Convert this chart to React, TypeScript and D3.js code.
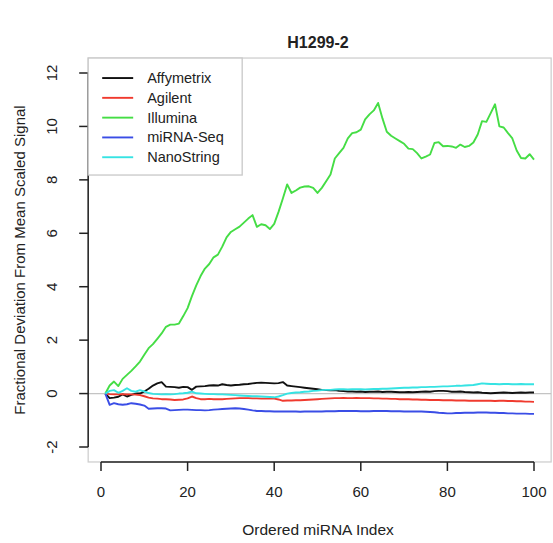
import React from "react";
import * as d3 from "d3";

const seriesNames = ["Affymetrix", "Agilent", "Illumina", "miRNA-Seq", "NanoString"];
const seriesColors = ["#111111", "#f03a2e", "#45dd45", "#3a4de6", "#36e3e3"];

const affymetrix = [0, -0.17, -0.15, -0.12, -0.03, -0.11, -0.05, 0.0, 0.0, 0.08, 0.18, 0.3, 0.38, 0.43, 0.26, 0.25, 0.24, 0.22, 0.25, 0.24, 0.14, 0.26, 0.27, 0.28, 0.3, 0.31, 0.3, 0.35, 0.32, 0.3, 0.32, 0.33, 0.35, 0.36, 0.38, 0.4, 0.41, 0.4, 0.39, 0.38, 0.39, 0.43, 0.3, 0.28, 0.26, 0.24, 0.22, 0.2, 0.18, 0.16, 0.14, 0.13, 0.12, 0.13, 0.1, 0.09, 0.08, 0.08, 0.07, 0.08, 0.06, 0.07, 0.07, 0.08, 0.06, 0.07, 0.07, 0.06, 0.05, 0.05, 0.06, 0.05, 0.06, 0.07, 0.08, 0.07, 0.09, 0.1, 0.1, 0.09, 0.07, 0.07, 0.08, 0.06, 0.05, 0.04, 0.05, 0.03, 0.02, 0.01, 0.02, 0.03, 0.04, 0.03, 0.02, 0.03, 0.04, 0.03, 0.04, 0.04];
const agilent = [0, -0.02, -0.03, -0.03, -0.02, -0.03, -0.03, -0.04, -0.06, -0.1, -0.15, -0.18, -0.19, -0.21, -0.21, -0.22, -0.24, -0.23, -0.22, -0.18, -0.11, -0.17, -0.21, -0.21, -0.2, -0.21, -0.21, -0.21, -0.2, -0.19, -0.18, -0.17, -0.17, -0.17, -0.18, -0.18, -0.19, -0.19, -0.19, -0.19, -0.22, -0.27, -0.26, -0.26, -0.25, -0.25, -0.24, -0.23, -0.22, -0.21, -0.2, -0.19, -0.18, -0.17, -0.17, -0.16, -0.17, -0.17, -0.16, -0.17, -0.17, -0.17, -0.18, -0.18, -0.19, -0.19, -0.2, -0.2, -0.21, -0.21, -0.21, -0.22, -0.22, -0.23, -0.23, -0.24, -0.24, -0.24, -0.25, -0.25, -0.25, -0.26, -0.26, -0.26, -0.27, -0.27, -0.27, -0.27, -0.27, -0.27, -0.28, -0.27, -0.27, -0.28, -0.28, -0.29, -0.29, -0.3, -0.3, -0.31];
const illumina = [0, 0.3, 0.45, 0.28, 0.55, 0.7, 0.85, 1.02, 1.2, 1.45, 1.7, 1.85, 2.05, 2.25, 2.5, 2.58, 2.58, 2.62, 2.9, 3.2, 3.65, 4.05, 4.4, 4.68, 4.85, 5.1, 5.2, 5.5, 5.85, 6.05, 6.15, 6.25, 6.4, 6.55, 6.68, 6.24, 6.34, 6.3, 6.16, 6.35, 6.8, 7.3, 7.83, 7.51, 7.6, 7.71, 7.75, 7.76, 7.7, 7.51, 7.7, 7.95, 8.2, 8.8, 9.0, 9.2, 9.55, 9.75, 9.78, 9.88, 10.26, 10.45, 10.6, 10.88, 10.3, 9.8, 9.65, 9.55, 9.45, 9.35, 9.17, 9.15, 9.0, 8.8, 8.87, 8.95, 9.38, 9.41, 9.26, 9.27, 9.25, 9.2, 9.32, 9.23, 9.27, 9.4, 9.7, 10.2, 10.17, 10.5, 10.83, 10.0, 9.96, 9.75, 9.55, 9.1, 8.82, 8.8, 8.96, 8.76];
const mirnaSeq = [0, -0.42, -0.36, -0.4, -0.42, -0.4, -0.36, -0.38, -0.41, -0.45, -0.57, -0.56, -0.55, -0.55, -0.56, -0.63, -0.62, -0.61, -0.6, -0.6, -0.61, -0.62, -0.62, -0.63, -0.62, -0.6, -0.59, -0.58, -0.57, -0.56, -0.55, -0.56, -0.58, -0.6, -0.63, -0.65, -0.65, -0.66, -0.66, -0.67, -0.67, -0.67, -0.67, -0.67, -0.67, -0.68, -0.67, -0.67, -0.67, -0.67, -0.67, -0.66, -0.66, -0.66, -0.65, -0.65, -0.65, -0.65, -0.65, -0.66, -0.66, -0.66, -0.65, -0.65, -0.65, -0.65, -0.66, -0.66, -0.66, -0.67, -0.67, -0.67, -0.67, -0.67, -0.68, -0.69, -0.7, -0.72, -0.73, -0.74, -0.74, -0.73, -0.73, -0.72, -0.72, -0.72, -0.71, -0.71, -0.71, -0.72, -0.72, -0.73, -0.73, -0.74, -0.74, -0.75, -0.75, -0.75, -0.76, -0.76];
const nanoString = [0, 0.1, 0.13, 0.03, 0.1, 0.2, 0.1, 0.07, 0.13, 0.08, 0.02, -0.01, -0.02, -0.03, -0.02, -0.03, -0.02, 0.0, 0.01, 0.03, 0.07, 0.01, 0.0, -0.01, -0.02, -0.02, -0.03, -0.03, -0.04, -0.05, -0.06, -0.07, -0.08, -0.09, -0.1, -0.1, -0.11, -0.12, -0.13, -0.14, -0.11, -0.06, 0.0, 0.02, 0.04, 0.05, 0.07, 0.08, 0.1, 0.11, 0.13, 0.14, 0.14, 0.15, 0.16, 0.16, 0.15, 0.16, 0.16, 0.16, 0.15, 0.16, 0.17, 0.17, 0.18, 0.18, 0.19, 0.2, 0.21, 0.22, 0.22, 0.23, 0.23, 0.24, 0.24, 0.25, 0.25, 0.26, 0.27, 0.27, 0.28, 0.29, 0.29, 0.3, 0.31, 0.32, 0.35, 0.38, 0.37, 0.36, 0.36, 0.35, 0.36, 0.36, 0.35, 0.35, 0.36, 0.35, 0.35, 0.35];

const xTicks = [0, 20, 40, 60, 80, 100];
const yTicks = [-2, 0, 2, 4, 6, 8, 10, 12];

const W = 553;
const H = 543;
const FONT = "'Liberation Sans', Arial, Helvetica, sans-serif";

export default function App() {
  const x = d3.scaleLinear().domain([0, 100]).range([101, 534]);
  const y = d3.scaleLinear().domain([-2, 12]).range([447, 73]);
  const boxL = x(-2.96);
  const boxR = x(103.96);
  const boxT = y(12.56);
  const boxB = y(-2.56);

  const allSeries = [affymetrix, agilent, illumina, mirnaSeq, nanoString];
  const line = d3
    .line<number>()
    .x((_, i) => x(i + 1))
    .y((d) => y(d));

  const legendX = boxL;
  const legendY = boxT;
  const legendW = 154;
  const legendH = 117;
  const rowH = 19.8;

  return (
    <svg
      width={W}
      height={H}
      style={{ position: "absolute", left: 0, top: 0, background: "#fff" }}
      fontFamily={FONT}
    >
      <rect x={0} y={0} width={W} height={H} fill="#fff" />
      <text x={318} y={48} textAnchor="middle" fontWeight="bold" fontSize={16} fill="#222">
        H1299-2
      </text>

      {/* plot box */}
      <rect x={boxL} y={boxT} width={boxR - boxL} height={boxB - boxT} fill="none" stroke="#cfcfcf" strokeWidth={1.3} />

      {/* zero line */}
      <line x1={boxL} x2={boxR} y1={y(0)} y2={y(0)} stroke="#c4c4c4" strokeWidth={1.3} />

      {/* series */}
      {allSeries.map((s, k) => (
        <path
          key={seriesNames[k]}
          d={line(s) || ""}
          fill="none"
          stroke={seriesColors[k]}
          strokeWidth={1.9}
          strokeLinejoin="round"
        />
      ))}

      {/* x axis */}
      <line x1={x(0)} x2={x(100)} y1={boxB} y2={boxB} stroke="#222" strokeWidth={1.5} />
      {xTicks.map((t) => (
        <g key={"x" + t}>
          <line x1={x(t)} x2={x(t)} y1={boxB} y2={boxB + 9} stroke="#222" strokeWidth={1.5} />
          <text x={x(t)} y={497} textAnchor="middle" fontSize={15} fill="#222">
            {t}
          </text>
        </g>
      ))}
      <text x={318} y={535} textAnchor="middle" fontSize={15.5} fill="#222">
        Ordered miRNA Index
      </text>

      {/* y axis */}
      <line x1={boxL} x2={boxL} y1={y(-2)} y2={y(12)} stroke="#222" strokeWidth={1.5} />
      {yTicks.map((t) => (
        <g key={"y" + t}>
          <line x1={boxL - 9} x2={boxL} y1={y(t)} y2={y(t)} stroke="#222" strokeWidth={1.5} />
          <text
            transform={`translate(${57},${y(t)}) rotate(-90)`}
            textAnchor="middle"
            fontSize={15}
            fill="#222"
          >
            {t}
          </text>
        </g>
      ))}
      <text
        transform={`translate(${25},${(boxT + boxB) / 2}) rotate(-90)`}
        textAnchor="middle"
        fontSize={15}
        fill="#222"
      >
        Fractional Deviation From Mean Scaled Signal
      </text>

      {/* legend */}
      <rect x={legendX} y={legendY} width={legendW} height={legendH} fill="#fff" stroke="#c8c8c8" strokeWidth={1.3} />
      {seriesNames.map((n, k) => {
        const ry = legendY + 20 + k * rowH;
        return (
          <g key={"lg" + n}>
            <line x1={legendX + 14} x2={legendX + 45} y1={ry} y2={ry} stroke={seriesColors[k]} strokeWidth={1.9} />
            <text x={legendX + 59} y={ry + 5} fontSize={14.5} fill="#222">
              {n}
            </text>
          </g>
        );
      })}
    </svg>
  );
}
